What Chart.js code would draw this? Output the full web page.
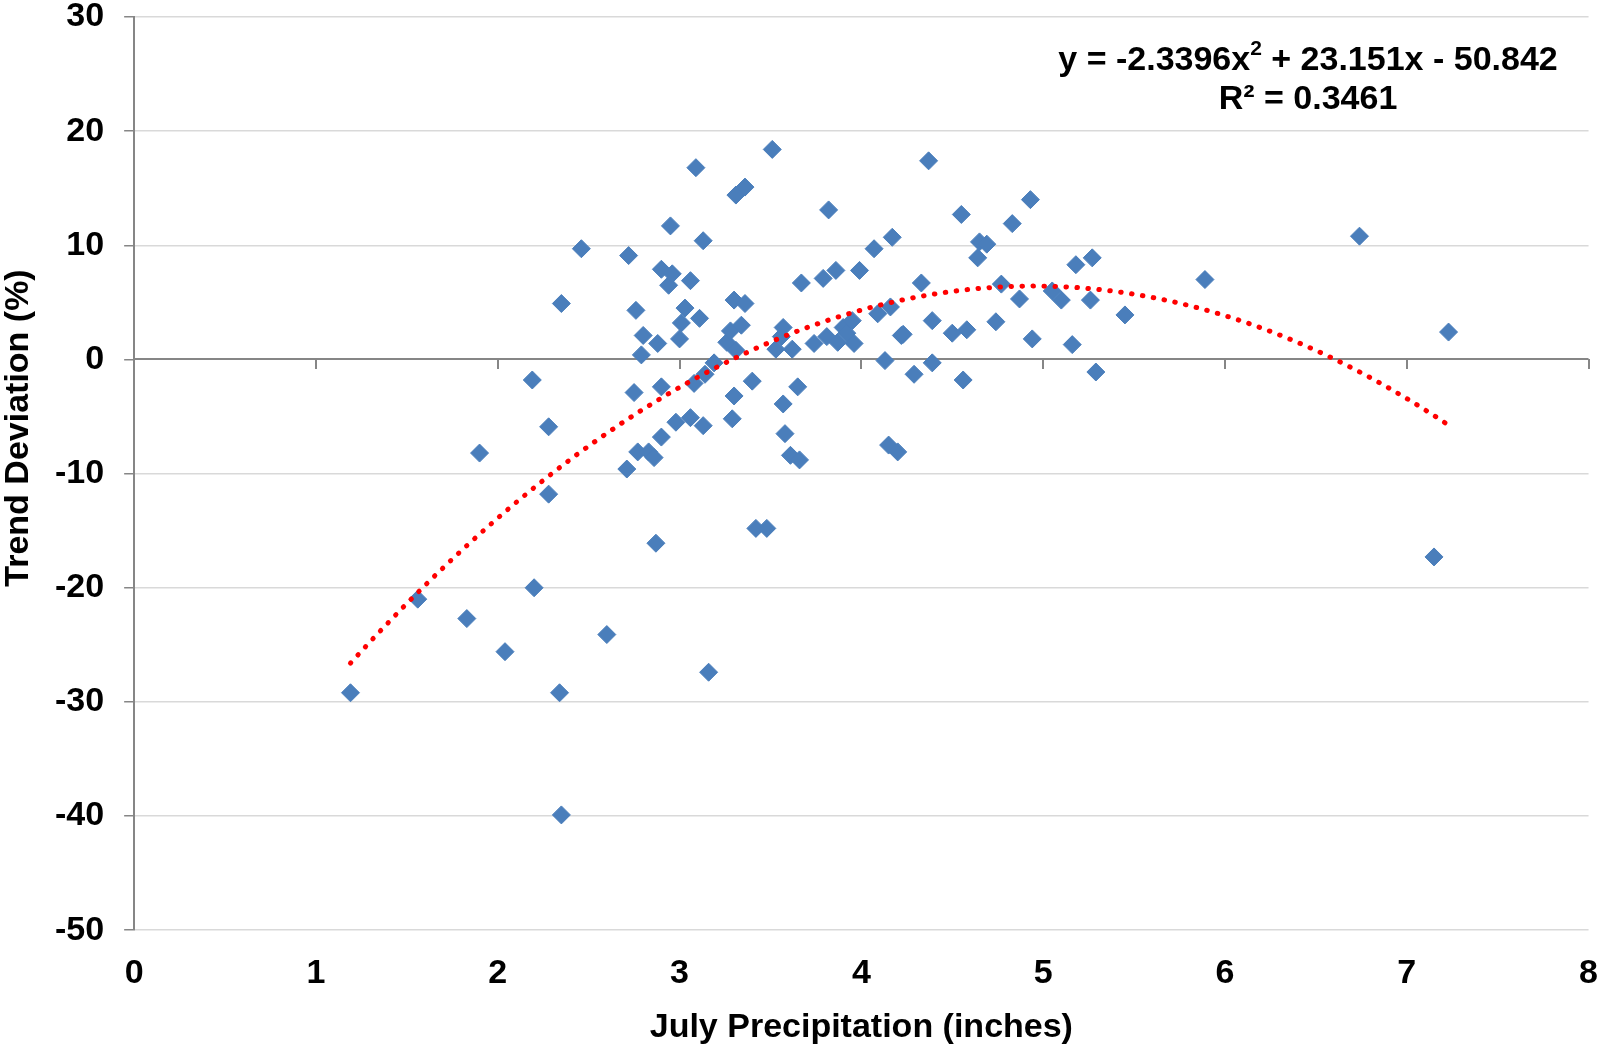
<!DOCTYPE html>
<html>
<head>
<meta charset="utf-8">
<script src="https://cdn.jsdelivr.net/npm/chart.js@4.4.1/dist/chart.umd.min.js"></script>
<style>
  html, body { margin: 0; padding: 0; background: #fff; overflow: hidden; }
  #wrap { width: 1598px; height: 1045px; }
</style>
</head>
<body>
<div id="wrap"><canvas id="chart"></canvas></div>
<script>
// July precipitation (inches) for each year
const julyPrecip = [
  1.19, 1.56, 1.83, 1.90, 2.04, 2.19, 2.20, 2.28, 2.28, 2.35,
  2.34, 2.35, 2.46, 2.60, 2.71, 2.72, 2.75, 2.76, 2.77, 2.80,
  2.79, 2.83, 2.86, 2.87, 2.88, 2.90, 2.90, 2.90, 2.94, 2.95,
  2.96, 2.98, 3.01, 3.00, 3.03, 3.06, 3.06, 3.08, 3.09, 3.11,
  3.13, 3.13, 3.16, 3.14, 3.19, 3.26, 3.28, 3.29, 3.30, 3.30,
  3.31, 3.31, 3.34, 3.36, 3.36, 3.40, 3.42, 3.48, 3.51, 3.53,
  3.56, 3.57, 3.57, 3.58, 3.61, 3.62, 3.65, 3.66, 3.67, 3.74,
  3.79, 3.81, 3.82, 3.86, 3.87, 3.90, 3.92, 3.95, 3.96, 3.99,
  4.07, 4.09, 4.13, 4.15, 4.16, 4.17, 4.20, 4.22, 4.23, 4.29,
  4.33, 4.37, 4.39, 4.39, 4.50, 4.55, 4.56, 4.58, 4.64, 4.65,
  4.69, 4.74, 4.77, 4.83, 4.87, 4.93, 4.94, 5.05, 5.10, 5.16,
  5.18, 5.26, 5.27, 5.29, 5.45, 5.89, 6.74, 7.15, 7.23
];

// Trend deviation (%) for the same years
const trendDeviation = [
  -29.2, -21.0, -22.7, -8.2, -25.6, -1.8, -20.0, -5.9, -11.8, 4.9,
  -29.2, -39.9, 9.7, -24.1, -9.6, 9.1, -2.9, 4.3, -8.1, 2.1,
  0.4, -8.1, -8.6, -16.1, 1.4, 7.9, -6.8, -2.4, 6.5, 11.7,
  7.5, -5.5, 3.2, 1.8, 4.5, 6.9, -5.1, -2.1, 16.8, 3.6,
  -5.8, 10.4, -27.4, -1.3, -0.3, 1.5, 2.5, -5.2, 5.2, -3.2,
  0.8, 14.4, 3.0, 15.1, 4.9, -1.9, -14.8, -14.8, 18.4, 0.9,
  2.0, -3.9, 2.8, -6.5, -8.4, 0.9, -2.4, -8.8, 6.7, 1.4,
  7.1, 2.0, 13.1, 7.8, 1.5, 2.8, 2.3, 3.4, 1.4, 7.8,
  9.7, 4.0, -0.1, -7.5, 4.6, 10.7, -8.1, 2.1, 2.2, -1.3,
  6.7, 17.4, 3.4, -0.3, 2.3, 12.7, -1.8, 2.6, 8.9, 10.3,
  10.1, 3.3, 6.6, 11.9, 5.3, 14.0, 1.8, 6.0, 5.2, 1.3,
  8.3, 5.2, 8.9, -1.1, 3.9, 7.0, 10.8, -17.3, 2.4
];

// Polynomial trendline shown on the chart: y = a x^2 + b x + c
const trendCoef = [-2.3396, 23.151, -50.842];
const trendR2 = '0.3461';

// Axis ranges
const xRange = [0, 8];
const yRange = [-50, 30];

const FONT = '"Liberation Sans", Arial, sans-serif';

const points = julyPrecip.map((x, i) => ({ x: x, y: trendDeviation[i] }));

// Trendline spans the data range, like Excel draws it
const xMin = Math.min(...julyPrecip);
const xMax = Math.max(...julyPrecip);
const trendPoints = [];
for (let i = 0; i <= 300; i++) {
  const x = xMin + (xMax - xMin) * i / 300;
  trendPoints.push({ x: x, y: trendCoef[0] * x * x + trendCoef[1] * x + trendCoef[2] });
}

// Horizontal axis line crossing at y = 0, with its tick marks
const zeroAxis = {
  id: 'zeroAxis',
  beforeDatasetsDraw(chart) {
    const { ctx, scales } = chart;
    const y0 = Math.round(scales.y.getPixelForValue(0));
    ctx.save();
    ctx.strokeStyle = '#868686';
    ctx.lineWidth = 2;
    ctx.beginPath();
    ctx.moveTo(scales.x.left, y0);
    ctx.lineTo(scales.x.right, y0);
    scales.x.ticks.forEach(t => {
      const px = Math.round(scales.x.getPixelForValue(t.value));
      ctx.moveTo(px, y0);
      ctx.lineTo(px, y0 + 10);
    });
    ctx.stroke();
    ctx.restore();
  }
};

// Axis title on the left and the trendline equation
const chartText = {
  id: 'chartText',
  afterDraw(chart) {
    const ctx = chart.ctx;
    ctx.save();
    ctx.fillStyle = '#000';

    ctx.save();
    ctx.translate(19, 428);
    ctx.rotate(-Math.PI / 2);
    ctx.font = 'bold 34px ' + FONT;
    ctx.textAlign = 'center';
    ctx.textBaseline = 'middle';
    ctx.fillText('Trend Deviation (%)', 0, 0);
    ctx.restore();

    const part1 = 'y = ' + trendCoef[0] + 'x';
    const part2 = '2';
    const part3 = ' + ' + trendCoef[1] + 'x - ' + Math.abs(trendCoef[2]);
    ctx.textBaseline = 'middle';
    ctx.textAlign = 'left';
    ctx.font = 'bold 34px ' + FONT;
    const w1 = ctx.measureText(part1).width;
    const w3 = ctx.measureText(part3).width;
    ctx.font = 'bold 21px ' + FONT;
    const w2 = ctx.measureText(part2).width;
    const cx = 1308;
    let x = cx - (w1 + w2 + w3) / 2;
    const y = 61;
    ctx.font = 'bold 34px ' + FONT;
    ctx.fillText(part1, x, y);
    x += w1;
    ctx.font = 'bold 21px ' + FONT;
    ctx.fillText(part2, x, y - 12);
    x += w2;
    ctx.font = 'bold 34px ' + FONT;
    ctx.fillText(part3, x, y);

    ctx.textAlign = 'center';
    ctx.fillText('R\u00b2 = ' + trendR2, cx, 100);
    ctx.restore();
  }
};

const ctx = document.getElementById('chart').getContext('2d');
new Chart(ctx, {
  type: 'scatter',
  data: {
    datasets: [
      {
        label: 'Poly. trend',
        data: trendPoints,
        showLine: true,
        borderColor: '#ff0000',
        borderWidth: 5,
        borderDash: [0.5, 10.5],
        borderCapStyle: 'round',
        pointRadius: 0,
        fill: false,
        order: 0
      },
      {
        label: 'Trend Deviation',
        data: points,
        pointStyle: 'rectRot',
        pointRadius: 9,
        backgroundColor: '#4a7ebb',
        borderColor: '#4a7ebb',
        borderWidth: 1,
        order: 1
      }
    ]
  },
  options: {
    responsive: true,
    maintainAspectRatio: false,
    animation: false,
    layout: { autoPadding: false, padding: { left: 55, top: 0, right: 0, bottom: 0 } },
    plugins: {
      legend: { display: false },
      tooltip: { enabled: false }
    },
    scales: {
      y: {
        min: yRange[0],
        max: yRange[1],
        ticks: {
          stepSize: 10,
          padding: 0,
          color: '#000',
          font: { family: FONT, size: 34, weight: 'bold', lineHeight: 1 }
        },
        grid: {
          color: c => (c.tick && c.tick.value === 0) ? 'rgba(0,0,0,0)' : '#d9d9d9',
          lineWidth: 1.5,
          // long tick slot keeps labels off the axis; only the 10px next to the axis shows
          tickLength: 30,
          tickBorderDash: [10, 20],
          tickBorderDashOffset: 10,
          tickColor: '#868686'
        },
        border: { color: '#868686', width: 2 }
      },
      x: {
        position: 'bottom',
        min: xRange[0],
        max: xRange[1],
        ticks: {
          stepSize: 1,
          padding: 0,
          color: '#000',
          font: { family: FONT, size: 34, weight: 'bold' }
        },
        grid: {
          drawOnChartArea: false,
          drawTicks: true,
          tickLength: 23,
          tickColor: 'rgba(0,0,0,0)'
        },
        border: { display: false },
        title: {
          display: true,
          text: 'July Precipitation (inches)',
          color: '#000',
          font: { family: FONT, size: 34, weight: 'bold', lineHeight: 1 },
          padding: { top: 17, bottom: 0 }
        }
      }
    }
  },
  plugins: [zeroAxis, chartText]
});
</script>
</body>
</html>
